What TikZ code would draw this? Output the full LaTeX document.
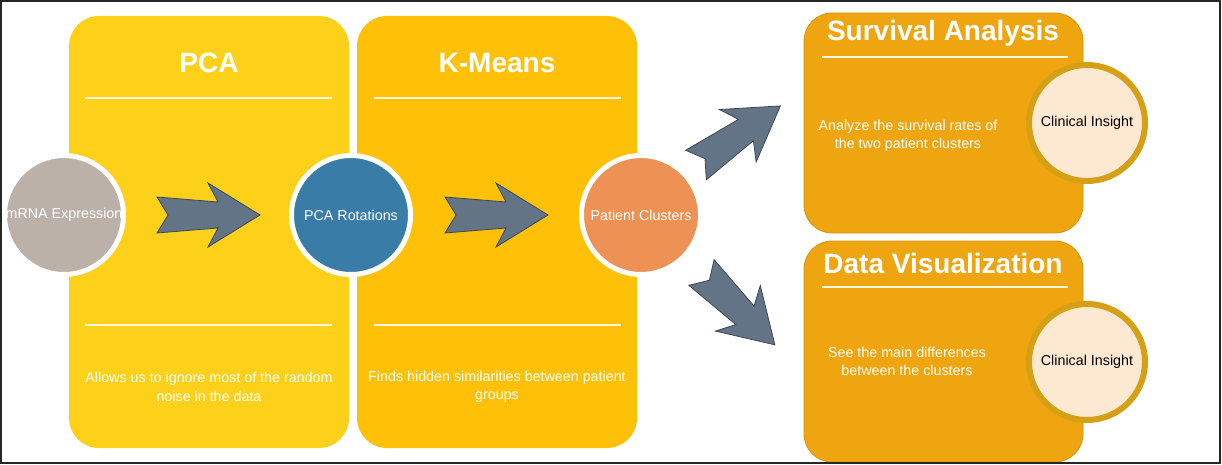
\documentclass[tikz,border=0pt]{standalone}
\usepackage{fontspec}
\setmainfont{Liberation Sans}
\usetikzlibrary{calc}

\definecolor{pcaYellow}{RGB}{253,209,26}
\definecolor{kmYellow}{RGB}{255,193,7}
\definecolor{outOrange}{RGB}{239,165,16}
\definecolor{outEdge}{RGB}{214,148,20}
\definecolor{mrnaGray}{RGB}{187,177,169}
\definecolor{rotBlue}{RGB}{57,124,168}
\definecolor{clusterOrange}{RGB}{237,145,84}
\definecolor{arrowSlate}{RGB}{99,116,134}
\definecolor{arrowEdge}{RGB}{62,72,84}
\definecolor{insightRing}{RGB}{213,160,22}
\definecolor{insightFill}{RGB}{253,232,210}
\definecolor{ruleCream}{RGB}{255,246,222}

\tikzset{
  stagebox/.style={rectangle, rounded corners=30pt, inner sep=0pt, outer sep=0pt,
    minimum width=280pt, minimum height=432pt},
  outbox/.style={rectangle, rounded corners=28pt, inner sep=0pt, outer sep=0pt,
    fill=outOrange, draw=outEdge, line width=0.8pt, minimum width=279pt},
  titletext/.style={text=white, font=\bfseries\fontsize{28}{32}\selectfont, inner sep=0pt},
  desctext/.style={text=white, align=center, font=\fontsize{14.3}{18.5}\selectfont, inner sep=0pt},
  rule/.style={draw=ruleCream, line width=2pt},
  stagecircle/.style={circle, draw=white, line width=5pt, inner sep=0pt, outer sep=0pt,
    minimum size=119pt, text=white, font=\fontsize{14.3}{17}\selectfont},
  insight/.style={circle, draw=insightRing, fill=insightFill, line width=6pt, inner sep=0pt,
    minimum size=116pt, text=black, font=\fontsize{14.3}{17}\selectfont},
  blockarrow/.pic={
    \fill[arrowSlate, draw=arrowEdge, line width=0.8pt, line join=miter]
      (0,18) -- (11,0) -- (0,-18) -- (61,-13) -- (51,-32) -- (103,0)
      -- (51,32) -- (61,13) -- cycle;
  }
}

\begin{document}
\begin{tikzpicture}[x=1pt, y=-1pt]
  \useasboundingbox (0,0) rectangle (1222,465);

  % stage panels
  \node[stagebox, fill=pcaYellow] (pcabox) at (209,232) {};
  \node[stagebox, fill=kmYellow] (kmbox) at (497,232) {};

  \node[titletext] (pcatitle) at (209,63) {PCA};
  \node[titletext] (kmtitle) at (497,63) {K-Means};
  \draw[rule] (85,98) -- (332,98);
  \draw[rule] (85,325) -- (332,325);
  \draw[rule] (374,98) -- (621,98);
  \draw[rule] (374,325) -- (621,325);

  \node[desctext] (pcadesc) at (209,387) {Allows us to ignore most of the random\\noise in the data};
  \node[desctext] (kmdesc) at (497,387) {Finds hidden similarities between patient\\groups};

  % outcome panels
  \node[outbox, minimum height=220pt] (survbox) at (943.5,123) {};
  \node[outbox, minimum height=221pt] (vizbox) at (943.5,351.5) {};
  \node[titletext] (survtitle) at (943,33) {Survival Analysis};
  \node[titletext] (viztitle) at (943,263) {Data Visualization};
  \draw[rule] (822,57) -- (1068,57);
  \draw[rule] (822,287) -- (1068,287);
  \node[desctext] (survdesc) at (908,136) {Analyze the survival rates of\\the two patient clusters};
  \node[desctext] (vizdesc) at (907,361.5) {See the main differences\\between the clusters};

  \node[insight] (insightA) at (1087,123) {Clinical Insight};
  \node[insight] (insightB) at (1087,362) {Clinical Insight};

  % data stages
  \node[stagecircle, fill=mrnaGray,
        path picture={\node[text=white, font=\fontsize{14.3}{17}\selectfont, inner sep=0pt]
          at (path picture bounding box.center) {mRNA Expression};}] (mrna) at (64,215) {};
  \node[stagecircle, fill=rotBlue] (rot) at (351,215) {PCA Rotations};
  \node[stagecircle, fill=clusterOrange] (clusters) at (641,215) {Patient Clusters};

  % block arrows between stages
  \coordinate (tailA) at (157,215);
  \coordinate (tailB) at (445,215);
  \coordinate (tailC) at (696,165);
  \coordinate (tailD) at (701.5,272.5);
  \pic (arrowA) at (tailA) {blockarrow};
  \pic (arrowB) at (tailB) {blockarrow};
  \pic[rotate=35] (arrowC) at (tailC) {blockarrow};
  \pic[rotate=-44.6] (arrowD) at (tailD) {blockarrow};

  % frame
  \draw[line width=1.3pt, black!85] (1,1) rectangle (1220,463);
\end{tikzpicture}
\end{document}
